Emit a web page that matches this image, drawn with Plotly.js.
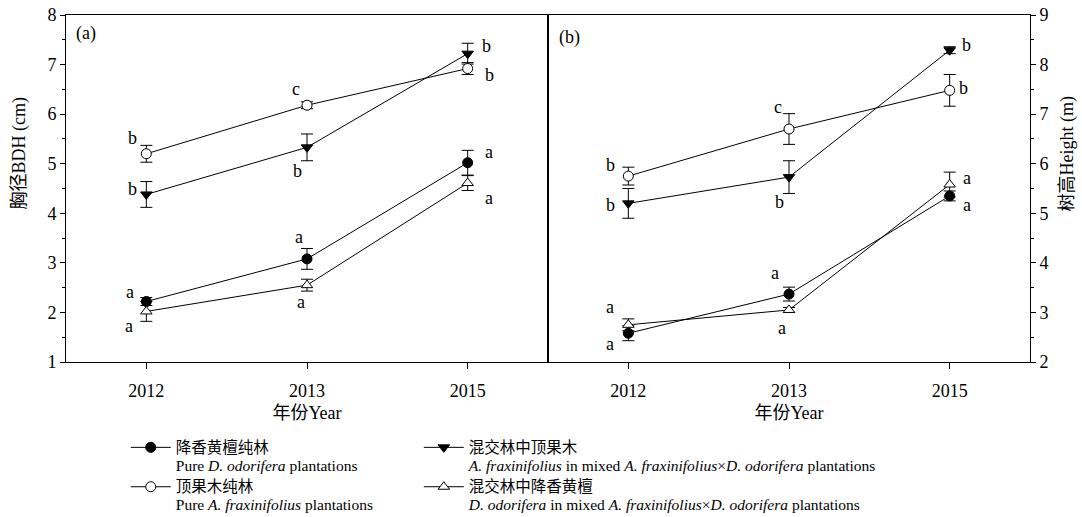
<!DOCTYPE html>
<html>
<head>
<meta charset="utf-8">
<script src="https://cdn.plot.ly/plotly-3.0.1.min.js"></script>
<style>html,body{margin:0;padding:0;background:#fff;}#chart{width:1082px;height:517px;}</style>
</head>
<body>
<div id="chart"></div>
<script>
// ---------- data ----------
const years = ['2012', '2013', '2015'];

// Panel (a): DBH (cm)
const bdhPureDO      = [2.22, 3.08, 5.02];
const bdhPureDOErr   = [0.08, 0.21, 0.25];
const bdhPureAF      = [5.20, 6.18, 6.92];
const bdhPureAFErr   = [0.17, 0.07, 0.12];
const bdhMixAF       = [4.38, 5.33, 7.22];
const bdhMixAFErr    = [0.26, 0.27, 0.21];
const bdhMixDO       = [2.02, 2.55, 4.61];
const bdhMixDOErr    = [0.20, 0.12, 0.15];

// Panel (b): Height (m)
const htPureDO       = [2.58, 3.37, 5.35];
const htPureDOErr    = [0.15, 0.14, 0.10];
const htPureAF       = [5.75, 6.70, 7.48];
const htPureAFErr    = [0.18, 0.31, 0.32];
const htMixAF        = [5.20, 5.73, 8.29];
const htMixAFErr     = [0.30, 0.33, 0.07];
const htMixDO        = [2.75, 3.05, 5.58];
const htMixDOErr     = [0.12, 0.05, 0.25];

// significance letters
const bdhPureDOLet = ['a', 'a', 'a'];
const bdhPureAFLet = ['b', 'c', 'b'];
const bdhMixAFLet  = ['b', 'b', 'b'];
const bdhMixDOLet  = ['a', 'a', 'a'];
const htPureDOLet  = ['a', 'a', 'a'];
const htPureAFLet  = ['b', 'c', 'b'];
const htMixAFLet   = ['b', 'b', 'b'];
const htMixDOLet   = ['a', 'a', 'a'];

const seriesCN = ['降香黄檀纯林', '混交林中顶果木', '顶果木纯林', '混交林中降香黄檀'];
const seriesEN = [
  'Pure <i>D. odorifera</i> plantations',
  '<i>A. fraxinifolius</i> in mixed <i>A. fraxinifolius</i>×<i>D. odorifera</i> plantations',
  'Pure <i>A. fraxinifolius</i> plantations',
  '<i>D. odorifera</i> in mixed <i>A. fraxinifolius</i>×<i>D. odorifera</i> plantations'
];

// ---------- styling ----------
const FONT = 'Liberation Serif, Times New Roman, Noto Sans CJK SC, serif';
const symbols = ['circle', 'triangle-down', 'circle', 'triangle-up'];
const fills = ['#000', '#000', '#fff', '#fff'];
const legendOf = ['legend', 'legend2', 'legend', 'legend2'];
const legendName = i => '<span style="font-size:15.5px">' + seriesCN[i] + '</span><br>' +
                         '<span style="font-size:15.5px">' + seriesEN[i] + '</span>';

const panelA = [
  {y: bdhPureDO, e: bdhPureDOErr, l: bdhPureDOLet},
  {y: bdhMixAF,  e: bdhMixAFErr,  l: bdhMixAFLet},
  {y: bdhPureAF, e: bdhPureAFErr, l: bdhPureAFLet},
  {y: bdhMixDO,  e: bdhMixDOErr,  l: bdhMixDOLet}
];
const panelB = [
  {y: htPureDO, e: htPureDOErr, l: htPureDOLet},
  {y: htMixAF,  e: htMixAFErr,  l: htMixAFLet},
  {y: htPureAF, e: htPureAFErr, l: htPureAFLet},
  {y: htMixDO,  e: htMixDOErr,  l: htMixDOLet}
];

// letter offsets in pixels [series][yearIndex] = [dx, dy(up +)]
const offA = [
  [[-16, 10], [-8, 22], [21, 11]],
  [[-14, 5], [-10, -24], [19, 8]],
  [[-14, 16], [-11, 16], [22, -6]],
  [[-17, -15], [-6, -17], [21, -15]]
];
const offB = [
  [[-18, -11], [-14, 21], [17, -9]],
  [[-18, -2], [-10, -25], [17, 5]],
  [[-18, 11], [-11, 22], [14, 2]],
  [[-18, 18], [-7, -18], [17, 7]]
];

const traces = [];
const annotations = [];
function addPanel(panel, xa, ya, offs, showLegend) {
  panel.forEach((s, i) => {
    traces.push({
      type: 'scatter', mode: 'lines+markers',
      x: years, y: s.y, xaxis: xa, yaxis: ya,
      name: legendName(i), legend: legendOf[i], showlegend: showLegend,
      line: {color: '#000', width: 1},
      marker: {symbol: symbols[i], size: 10, color: fills[i], line: {color: '#000', width: 1}},
      error_y: {type: 'data', array: s.e, visible: true, color: '#000', thickness: 1, width: 6}
    });
    s.l.forEach((letter, j) => {
      annotations.push({
        x: j, y: s.y[j], xref: xa, yref: ya, text: letter, showarrow: false,
        xshift: offs[i][j][0], yshift: offs[i][j][1],
        font: {family: FONT, size: 18, color: '#000'}
      });
    });
  });
}
addPanel(panelA, 'x', 'y', offA, true);
addPanel(panelB, 'x2', 'y2', offB, false);

annotations.push(
  {xref: 'paper', yref: 'paper', x: 0.008, y: 0.947, xanchor: 'left', yanchor: 'middle', text: '(a)',
   showarrow: false, font: {family: FONT, size: 18, color: '#000'}},
  {xref: 'paper', yref: 'paper', x: 0.509, y: 0.935, xanchor: 'left', yanchor: 'middle', text: '(b)',
   showarrow: false, font: {family: FONT, size: 18, color: '#000'}},
  {xref: 'paper', yref: 'paper', x: -0.048, y: 0.6, xanchor: 'center', yanchor: 'middle', textangle: -90,
   text: '胸径BDH (cm)', showarrow: false, font: {family: FONT, size: 18, color: '#000'}},
  {xref: 'paper', yref: 'paper', x: 1.039, y: 0.6, xanchor: 'center', yanchor: 'middle', textangle: -90,
   text: '树高Height (m)', showarrow: false, font: {family: FONT, size: 18, color: '#000'}}
);

const axBase = {
  showline: true, linecolor: '#000', linewidth: 1, mirror: true,
  showgrid: false, zeroline: false, ticks: 'outside', tickcolor: '#000',
  tickfont: {family: FONT, size: 18, color: '#000'}
};
const xBase = Object.assign({}, axBase, {
  type: 'category', range: [-0.5, 2.5], ticklen: 6, ticklabelstandoff: 6,
  title: {text: '年份Year', font: {family: FONT, size: 18, color: '#000'}, standoff: 6}
});
const yBase = Object.assign({}, axBase, {
  dtick: 1, ticklen: 5,
  minor: {dtick: 0.5, ticks: 'outside', ticklen: 3, tickcolor: '#000', showgrid: false}
});
const legBase = {
  orientation: 'v', xanchor: 'left', yanchor: 'top', valign: 'top', itemwidth: 40,
  tracegroupgap: 0, font: {family: FONT, size: 14, color: '#000'}, bgcolor: 'rgba(0,0,0,0)'
};

const layout = {
  width: 1082, height: 517,
  margin: {l: 66, r: 52, t: 15, b: 155, autoexpand: false},
  paper_bgcolor: '#fff', plot_bgcolor: '#fff',
  showlegend: true,
  font: {family: FONT, color: '#000'},
  xaxis: Object.assign({}, xBase, {domain: [0, 0.5], anchor: 'y'}),
  xaxis2: Object.assign({}, xBase, {domain: [0.5, 1], anchor: 'y2'}),
  yaxis: Object.assign({}, yBase, {range: [1, 8], anchor: 'x'}),
  yaxis2: Object.assign({}, yBase, {range: [2, 9], anchor: 'x2', side: 'right'}),
  legend: Object.assign({}, legBase, {x: 0.062, y: -0.201}),
  legend2: Object.assign({}, legBase, {x: 0.366, y: -0.201}),
  annotations: annotations
};

Plotly.newPlot('chart', traces, layout, {displayModeBar: false, staticPlot: true});
</script>
</body>
</html>
